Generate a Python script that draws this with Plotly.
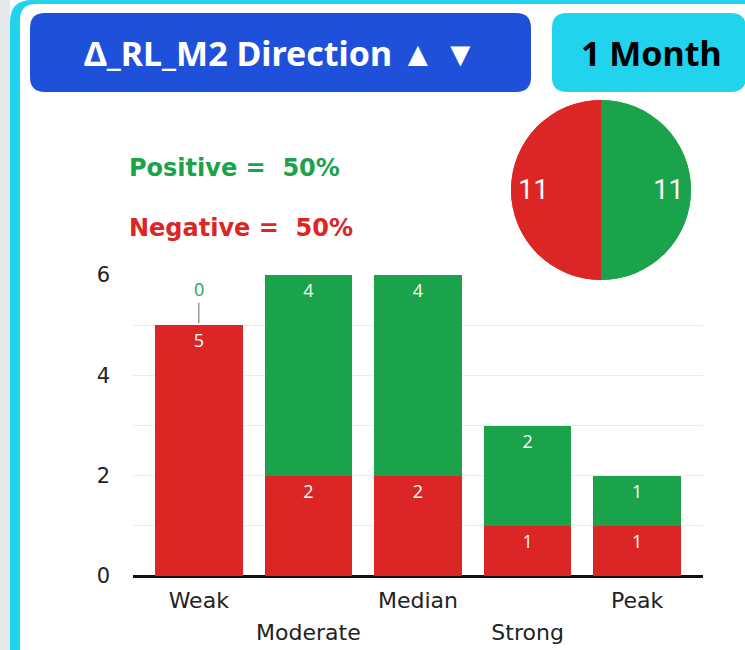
import plotly.graph_objects as go

# ---------------- data ----------------
categories = ["Weak", "Moderate", "Median", "Strong", "Peak"]
negative = [5, 2, 2, 1, 1]
positive = [0, 4, 4, 2, 1]
y_ticks = [0, 2, 4, 6]
pie_labels = ["Positive", "Negative"]
pie_values = [sum(positive), sum(negative)]
title_text = "Δ_RL_M2 Direction ▲ ▼"
period_text = "1 Month"

# ---------------- style ----------------
W, H = 745, 650
GREEN = "#1AA34A"
RED = "#DC2626"
BLUE = "#1F50DA"
CYAN = "#22D3EE"
AX_FONT = "DejaVu Sans"


def px(x):
    return x / W


def py(y):
    return 1 - y / H


def rrect(x0, y0, x1, y1, r):
    pts = [
        f"M {px(x0 + r)} {py(y0)}",
        f"L {px(x1 - r)} {py(y0)}",
        f"Q {px(x1)} {py(y0)} {px(x1)} {py(y0 + r)}",
        f"L {px(x1)} {py(y1 - r)}",
        f"Q {px(x1)} {py(y1)} {px(x1 - r)} {py(y1)}",
        f"L {px(x0 + r)} {py(y1)}",
        f"Q {px(x0)} {py(y1)} {px(x0)} {py(y1 - r)}",
        f"L {px(x0)} {py(y0 + r)}",
        f"Q {px(x0)} {py(y0)} {px(x0 + r)} {py(y0)}",
        "Z",
    ]
    return " ".join(pts)


fig = go.Figure()

for vals, name, col in [(negative, "Negative", RED), (positive, "Positive", GREEN)]:
    fig.add_trace(go.Bar(
        x=categories, y=vals, name=name, marker_color=col,
        text=[str(v) if v else "" for v in vals],
        textposition="inside", insidetextanchor="end", textangle=0,
        constraintext="none",
        textfont=dict(color="white", size=18, family="Open Sans"),
        marker_line_width=0, hoverinfo="skip",
    ))

upper_idx = [i for i in range(len(categories)) if i % 2 == 0]
lower_idx = [i for i in range(len(categories)) if i % 2 == 1]

# invisible helper trace so the second (lower-row label) x axis is drawn
fig.add_trace(go.Scatter(
    x=lower_idx, y=[None] * len(lower_idx), xaxis="x2", yaxis="y", mode="markers",
    marker=dict(opacity=0), showlegend=False, hoverinfo="skip",
))

pie_domain = dict(x=[px(511), px(691)], y=[py(280), py(100)])
# full disc underneath
fig.add_trace(go.Pie(
    labels=pie_labels, values=pie_values, sort=False, direction="clockwise",
    marker=dict(colors=[GREEN, RED], line=dict(width=0)),
    textinfo="none", domain=pie_domain, showlegend=False, hoverinfo="skip",
))
# ring on top carrying the value labels
fig.add_trace(go.Pie(
    labels=pie_labels, values=pie_values, sort=False, direction="clockwise", hole=0.5,
    marker=dict(colors=[GREEN, RED], line=dict(width=0)),
    textinfo="value", textposition="inside", insidetextorientation="horizontal",
    textfont=dict(color="white", size=27, family="Roboto"),
    domain=pie_domain, showlegend=False, hoverinfo="skip",
))

# zero-value labels with connector
annotations = []
for c, n, p in zip(categories, negative, positive):
    if p == 0:
        annotations.append(dict(
            x=c, y=n, xref="x", yref="y", text=str(p), showarrow=True,
            arrowhead=0, arrowwidth=1.5, arrowcolor="#999999", ax=0, ay=-36,
            standoff=2, font=dict(color=GREEN, size=18, family="Open Sans"),
        ))

total = sum(pie_values)
pos_pct = round(100 * sum(positive) / total)
neg_pct = round(100 * sum(negative) / total)

annotations += [
    dict(x=px(280), y=py(53), xref="paper", yref="paper", xanchor="center", yanchor="middle",
         text=f"<b>{title_text}</b>", showarrow=False,
         font=dict(color="white", size=34, family="Noto Sans")),
    dict(x=px(651), y=py(53), xref="paper", yref="paper", xanchor="center", yanchor="middle",
         text=f"<b>{period_text}</b>", showarrow=False,
         font=dict(color="black", size=34, family="Noto Sans")),
    dict(x=px(127), y=py(168), xref="paper", yref="paper", xanchor="left", yanchor="middle",
         text=f"<b>Positive =  {pos_pct}%</b>", showarrow=False,
         font=dict(color=GREEN, size=24, family="DejaVu Sans")),
    dict(x=px(127), y=py(228), xref="paper", yref="paper", xanchor="left", yanchor="middle",
         text=f"<b>Negative =  {neg_pct}%</b>", showarrow=False,
         font=dict(color=RED, size=24, family="DejaVu Sans")),
]

shapes = [
    dict(type="rect", xref="paper", yref="paper", x0=0, x1=px(10), y0=0, y1=1,
         fillcolor="#E6E9EC", line_width=0, layer="below"),
    dict(type="path", xref="paper", yref="paper", path=rrect(10, 0, 770, 700, 22),
         fillcolor=CYAN, line_width=0, layer="below"),
    dict(type="path", xref="paper", yref="paper", path=rrect(20, 4, 770, 700, 16),
         fillcolor="white", line_width=0, layer="below"),
    dict(type="path", xref="paper", yref="paper", path=rrect(30, 13, 531, 92, 15),
         fillcolor=BLUE, line_width=0, layer="below"),
    dict(type="path", xref="paper", yref="paper", path=rrect(552, 13, 746, 92, 15),
         fillcolor=CYAN, line_width=0, layer="below"),
]

x_domain = [px(133), px(703)]
x_range = [-0.6, len(categories) - 0.4]
tick_font = dict(size=22, color="#222222", family=AX_FONT)

fig.update_layout(
    width=W, height=H, margin=dict(l=0, r=0, t=0, b=0, autoexpand=False),
    paper_bgcolor="white", plot_bgcolor="rgba(0,0,0,0)",
    barmode="stack", bargap=0.2, showlegend=False,
    annotations=annotations, shapes=shapes,
    font=dict(family=AX_FONT, color="#222222"),
    xaxis=dict(
        domain=x_domain, range=x_range, tickmode="array",
        tickvals=[categories[i] for i in upper_idx],
        ticktext=[categories[i] for i in upper_idx], tickfont=tick_font,
        showgrid=False, showline=False, zeroline=False, ticks="", automargin=False,
        anchor="y", ticklabelstandoff=9,
    ),
    xaxis2=dict(
        domain=x_domain, range=x_range, type="linear", overlaying="x", anchor="y",
        side="bottom", tickmode="array", tickvals=lower_idx,
        ticktext=[categories[i] for i in lower_idx], tickfont=tick_font,
        showgrid=False, showline=False, zeroline=False, ticks="", automargin=False,
        ticklabelstandoff=41,
    ),
    yaxis=dict(
        domain=[py(576), py(275)], range=[0, 6], tickvals=y_ticks,
        tickfont=dict(size=21, color="#222222", family=AX_FONT), showgrid=True,
        gridcolor="#EBEBEB", gridwidth=1.2, zeroline=True, zerolinecolor="#111111",
        zerolinewidth=2.5, showline=False, ticks="", ticklabelstandoff=22, automargin=False,
        minor=dict(dtick=1, showgrid=True, gridcolor="#EBEBEB", gridwidth=1.2),
    ),
)

fig.write_html("out.html", config={"displayModeBar": False},
               post_script="document.body.style.margin='0';")
